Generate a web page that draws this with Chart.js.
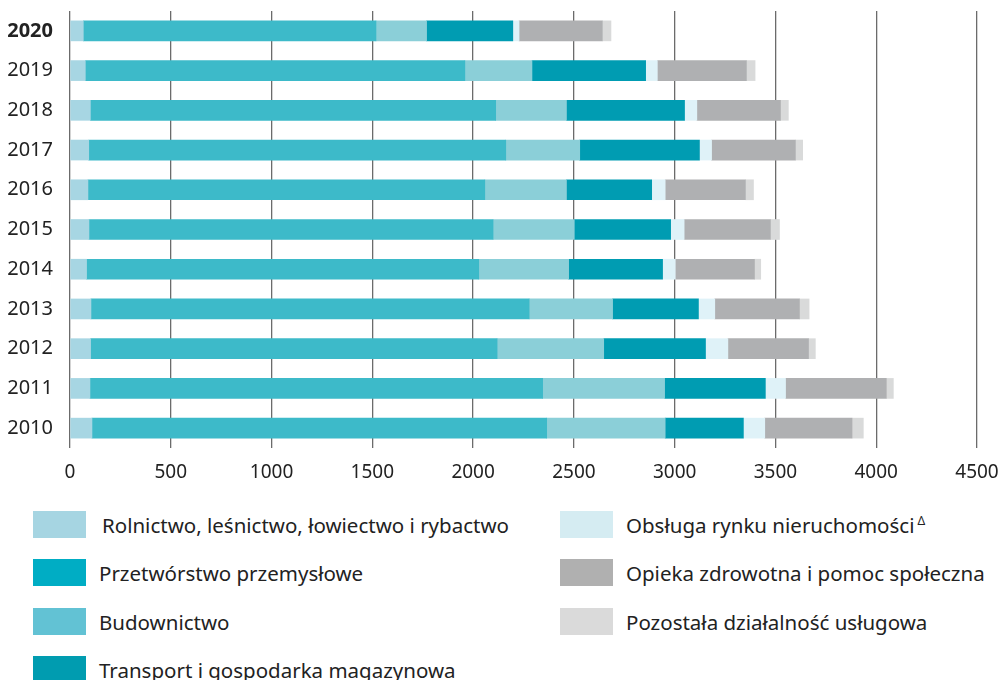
<!DOCTYPE html>
<html lang="pl">
<head>
    <meta charset="UTF-8">
    <title>Zatrudnienie wg sekcji</title>
    <style>
        body { margin: 0; background: #fff; font-family: "Noto Sans", sans-serif; color: #222; }
        #wrap { position: relative; width: 1003px; height: 680px; overflow: hidden; }
        #chartBox { position: absolute; left: 0; top: 0; width: 1003px; height: 490px; }
        .legend-item { position: absolute; height: 27px; display: flex; align-items: center; font-size: 20.5px; white-space: nowrap; }
        .legend-item .box { width: 53px; height: 27px; margin-right: 13px; flex: none; }
        .legend-item sup { font-size: 12px; position: relative; top: -4px; margin-left: 3px; }
    </style>
</head>
<body>
    <div id="wrap">
        <div id="chartBox"><canvas id="barChart"></canvas></div>
        <div id="legend"></div>
    </div>

    <script src="https://cdn.jsdelivr.net/npm/chart.js"></script>
    <script>
        // categories, top to bottom
        const years = ['2020', '2019', '2018', '2017', '2016', '2015', '2014', '2013', '2012', '2011', '2010'];

        // series values
        const rolnictwo      = [66, 76, 101, 93, 89, 94, 82, 104, 102, 99, 109];
        const przetworstwo   = [1452, 1883, 2011, 2069, 1969, 2005, 1946, 2174, 2017, 2246, 2256];
        const budownictwo    = [251, 333, 351, 367, 405, 403, 446, 414, 529, 605, 588];
        const transport      = [428, 564, 586, 594, 423, 478, 466, 426, 505, 500, 388];
        const nieruchomosci  = [31, 58, 61, 60, 67, 67, 63, 81, 111, 100, 106];
        const opieka         = [413, 442, 415, 416, 398, 428, 393, 420, 400, 500, 433];
        const pozostala      = [43, 43, 39, 36, 40, 45, 31, 48, 34, 35, 56];

        const seriesNames = [
            'Rolnictwo, leśnictwo, łowiectwo i rybactwo',
            'Przetwórstwo przemysłowe',
            'Budownictwo',
            'Transport i gospodarka magazynowa',
            'Obsługa rynku nieruchomości',
            'Opieka zdrowotna i pomoc społeczna',
            'Pozostała działalność usługowa'
        ];
        const seriesValues = [rolnictwo, przetworstwo, budownictwo, transport, nieruchomosci, opieka, pozostala];

        // x axis ticks
        const xTicks = [0, 500, 1000, 1500, 2000, 2500, 3000, 3500, 4000, 4500];

        const barColors    = ['#a7d6e3', '#3dbac9', '#8bcfd8', '#009cb2', '#dff2f8', '#afb0b2', '#d9dada'];
        const legendColors = ['#a6d5e2', '#00adc4', '#62c2d4', '#009cb0', '#d5ecf2', '#b0b0b0', '#dadada'];

        const datasets = seriesNames.map((name, i) => ({
            label: name,
            data: seriesValues[i],
            backgroundColor: barColors[i],
            borderWidth: 0,
            barThickness: 20
        }));

        new Chart(document.getElementById('barChart'), {
            type: 'bar',
            data: { labels: years, datasets },
            options: {
                indexAxis: 'y',
                responsive: true,
                maintainAspectRatio: false,
                animation: false,
                layout: { padding: { top: 11, right: 26, left: 0, bottom: 0 } },
                plugins: {
                    legend: { display: false },
                    tooltip: { enabled: false }
                },
                scales: {
                    x: {
                        stacked: true,
                        min: 0,
                        max: 4500,
                        afterBuildTicks: axis => { axis.ticks = xTicks.map(v => ({ value: v })); },
                        afterFit: axis => {
                            axis.height = 42;
                            axis.paddingLeft = 0;   // keep the plot edges where the layout puts them
                            axis.paddingRight = 0;
                        },
                        border: { display: false },
                        grid: { color: '#6b6b6b', lineWidth: 1.3, drawTicks: false },
                        ticks: {
                            padding: 13,
                            color: '#222',
                            font: { family: 'Noto Sans', size: 19 },
                            callback: value => String(value)
                        }
                    },
                    y: {
                        stacked: true,
                        afterFit: axis => {
                            axis.width = 70;
                            axis.paddingTop = 0;
                            axis.paddingBottom = 0;
                        },
                        border: { display: false },
                        grid: { display: false, drawTicks: false },
                        ticks: {
                            padding: 17,
                            color: '#222',
                            font: ctx => ({
                                family: 'Noto Sans',
                                size: 20,
                                weight: ctx.index === 0 ? 'bold' : 'normal'
                            })
                        }
                    }
                }
            }
        });

        // legend in two columns: 4 on the left, 3 on the right
        const legendEl = document.getElementById('legend');
        const rowTops = [511, 559, 608, 656];
        seriesNames.forEach((name, i) => {
            const col = i < 4 ? 0 : 1;
            const row = col === 0 ? i : i - 4;
            const item = document.createElement('div');
            item.className = 'legend-item';
            item.style.left = (col === 0 ? 33 : 560) + 'px';
            item.style.top = rowTops[row] + 'px';
            item.innerHTML = `<span class="box" style="background:${legendColors[i]}"></span>` +
                `<span style="${i === 0 ? 'padding-left:3px' : ''}">${name}</span>` +
                (i === 4 ? '<sup>&Delta;</sup>' : '');
            legendEl.appendChild(item);
        });
    </script>
</body>
</html>
